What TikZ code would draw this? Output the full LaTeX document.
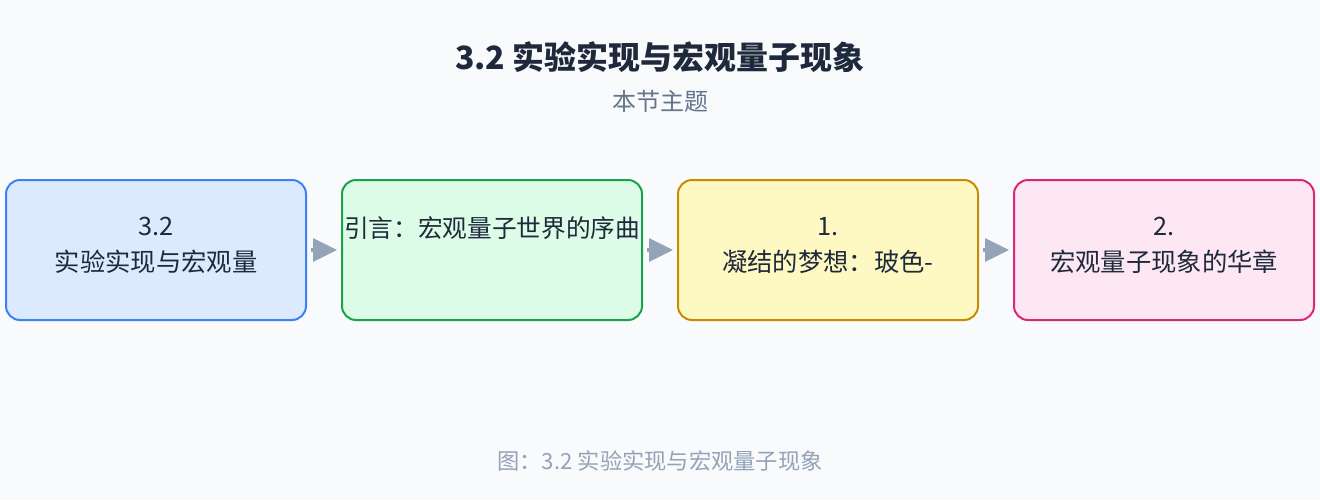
\documentclass[tikz,border=0pt]{standalone}
\usepackage{fontspec}
\setmainfont{Noto Sans CJK SC}
\usetikzlibrary{positioning,arrows.meta,backgrounds}
\definecolor{pagebackground}{HTML}{f8fafc}
\definecolor{titletext}{HTML}{1e293b}
\definecolor{subtext}{HTML}{64748b}
\definecolor{greyarrow}{HTML}{94a3b8}
\definecolor{blueborder}{HTML}{3b82f6}
\definecolor{bluebackground}{HTML}{dbeafe}
\definecolor{greenborder}{HTML}{16a34a}
\definecolor{greenbackground}{HTML}{dcfce7}
\definecolor{yellowborder}{HTML}{ca8a04}
\definecolor{yellowbackground}{HTML}{fef9c3}
\definecolor{pinkborder}{HTML}{db2777}
\definecolor{pinkbackground}{HTML}{fce7f3}

\tikzset{
  stagebox/.style={draw, line width=1.5pt, rounded corners=10.5pt,
    minimum width=225pt, minimum height=105pt, align=center, inner xsep=1pt,
    text=titletext, font=\fontsize{19}{27}\selectfont,
    text height=41pt, text depth=8.2pt},
  flowarrow/.style={draw=greyarrow, line width=3pt,
    -{Triangle[length=18pt,width=17pt]}, shorten <=3pt, shorten >=3pt}
}

\begin{document}
\begin{tikzpicture}[x=0.75pt,y=-0.75pt]

    \fill[pagebackground] (0,0) rectangle (1320,500);
    \useasboundingbox (0,0) rectangle (1320,500);

    \node[font=\fontsize{24}{28}\selectfont\bfseries, text=titletext] (title) at (660,57) {3.2 实验实现与宏观量子现象};
    \node[font=\fontsize{18}{22}\selectfont, text=subtext] (subtitle) at (660,101) {本节主题};

    \node[stagebox, draw=blueborder, fill=bluebackground] (intro) at (156,250) {3.2\\实验实现与宏观量};
    \node[stagebox, draw=greenborder, fill=greenbackground,
          font=\fontsize{18.5}{27}\selectfont, text height=14pt, text depth=32.4pt] (prelude) at (492,250) {引言：宏观量子世界的序曲};
    \node[stagebox, draw=yellowborder, fill=yellowbackground] (dream) at (828,250) {1.\\凝结的梦想：玻色-};
    \node[stagebox, draw=pinkborder, fill=pinkbackground] (chapter) at (1164,250) {2.\\宏观量子现象的华章};

    \draw[flowarrow] (intro) -- (prelude);
    \draw[flowarrow] (prelude) -- (dream);
    \draw[flowarrow] (dream) -- (chapter);

    \node[font=\fontsize{16.7}{20}\selectfont, text=greyarrow] (caption) at (660,461) {图：3.2 实验实现与宏观量子现象};
\end{tikzpicture}
\end{document}
